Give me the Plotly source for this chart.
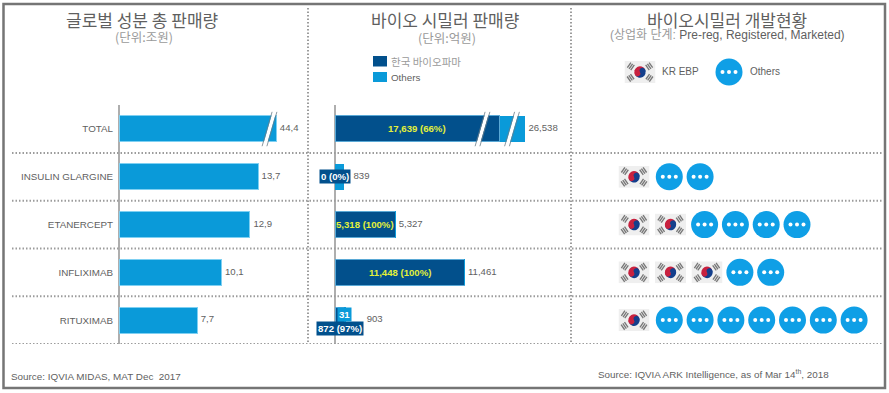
import base64
import plotly.graph_objects as go

# ---------- data ----------
categories = ["TOTAL", "INSULIN GLARGINE", "ETANERCEPT", "INFLIXIMAB", "RITUXIMAB"]
global_sales = [44.4, 13.7, 12.9, 10.1, 7.7]
global_labels = ["44,4", "13,7", "12,9", "10,1", "7,7"]
# TOTAL bars are drawn with a broken axis, so their drawn length is shorter than the value
global_drawn = [15.5, 13.7, 12.9, 10.1, 7.7]

bio_kr = [17639, 0, 5318, 11448, 872]
bio_total = [26538, 839, 5327, 11461, 903]
bio_kr_drawn = [14600, 0, 5318, 11448, 872]
bio_others_drawn = [2210, 839, 9, 13, 31]
bio_total_labels = ["26,538", "839", "5,327", "11,461", "903"]
bio_kr_labels = ["17,639 (66%)", "0 (0%)", "5,318 (100%)", "11,448 (100%)", "872 (97%)"]

pipeline_kr = [0, 1, 2, 3, 1]
pipeline_others = [0, 2, 4, 2, 7]

LIGHT = "#0a9ad9"
DARK = "#02508c"
CIRCLE = "#0f9fe6"
GREY = "#5f5f5f"
PALE = "#9a9a9a"
DOT = "#9c9c9c"
FONT = "Liberation Sans, Arial, sans-serif"
KR = "Noto Sans CJK KR, sans-serif"
W, H = 889, 393
PX_L, PX_M = 10.15, 0.0113


def fx(p):
    return p / W


def fy(p):
    return 1 - p / H


flag_svg = """<svg xmlns="http://www.w3.org/2000/svg" viewBox="0 0 60 42">
<rect width="60" height="42" fill="#efefef"/>
<g transform="rotate(-28 30 21)">
<path d="M19 21a11 11 0 0 1 22 0z" fill="#c8213f"/>
<path d="M19 21a11 11 0 0 0 22 0z" fill="#143f8c"/>
<circle cx="24.5" cy="21" r="5.5" fill="#c8213f"/>
<circle cx="35.5" cy="21" r="5.5" fill="#143f8c"/>
</g>
<g fill="#777777">
<g transform="rotate(-55 12 10)"><rect x="6" y="5" width="12" height="2.6"/><rect x="6" y="9" width="12" height="2.6"/><rect x="6" y="13" width="12" height="2.6"/></g>
<g transform="rotate(55 48 10)"><rect x="42" y="5" width="12" height="2.6"/><rect x="42" y="9" width="12" height="2.6"/><rect x="42" y="13" width="12" height="2.6"/></g>
<g transform="rotate(55 12 32)"><rect x="6" y="27" width="12" height="2.6"/><rect x="6" y="31" width="12" height="2.6"/><rect x="6" y="35" width="12" height="2.6"/></g>
<g transform="rotate(-55 48 32)"><rect x="42" y="27" width="12" height="2.6"/><rect x="42" y="31" width="12" height="2.6"/><rect x="42" y="35" width="12" height="2.6"/></g>
</g></svg>"""
FLAG = "data:image/svg+xml;base64," + base64.b64encode(flag_svg.encode()).decode()

fig = go.Figure()

# ---------- left panel ----------
fig.add_trace(go.Bar(x=global_drawn, y=categories, orientation="h", width=0.545,
                     marker=dict(color=LIGHT, line=dict(color="#7fd0f2", width=1)),
                     xaxis="x", yaxis="y", showlegend=False))
fig.add_trace(go.Scatter(x=[v + 3.5 / PX_L for v in global_drawn], y=categories, text=global_labels, mode="text",
                         textposition="middle right", textfont=dict(size=9.6, color=GREY, family=FONT),
                         xaxis="x", yaxis="y", showlegend=False, cliponaxis=False))

# ---------- middle panel ----------
fig.add_trace(go.Bar(x=bio_kr_drawn, y=categories, orientation="h", width=0.545,
                     marker=dict(color=DARK, line=dict(color="#5aa9d6", width=1)),
                     xaxis="x2", yaxis="y", name="한국 바이오파마", showlegend=False))
fig.add_trace(go.Bar(x=bio_others_drawn, y=categories, orientation="h", width=0.545,
                     marker=dict(color=LIGHT, line=dict(width=0)),
                     xaxis="x2", yaxis="y", name="Others", showlegend=False))
bio_drawn_total = [a + b for a, b in zip(bio_kr_drawn, bio_others_drawn)]
label_gap_px = [3.5, 9, 3.5, 3.5, 21.5]
fig.add_trace(go.Scatter(x=[v + g / PX_M for v, g in zip(bio_drawn_total, label_gap_px)], y=categories,
                         text=bio_total_labels, mode="text",
                         textposition="middle right", textfont=dict(size=9.6, color=GREY, family=FONT),
                         xaxis="x2", yaxis="y", showlegend=False, cliponaxis=False))

annotations = []


def label(text, x, cat, color, bg=None, xshift=0, yshift=0, size=9.6, xref="x2"):
    annotations.append(dict(text=text, x=x, y=cat, xref=xref, yref="y", showarrow=False,
                            xshift=xshift, yshift=yshift, bgcolor=bg, borderpad=1,
                            font=dict(size=size, color=color, family=FONT)))


YEL = "#e3f03a"
for i in (0, 2, 3):
    label("<b>%s</b>" % bio_kr_labels[i], bio_kr_drawn[i] / 2, categories[i], YEL)
label("<b>%s</b>" % bio_kr_labels[1], 0, categories[1], "white", bg=DARK)
label("<b>%s</b>" % bio_kr_labels[4], 0, categories[4], "white", bg=DARK, xshift=5, yshift=-8)
label("<b>31</b>", 0, categories[4], "white", bg=LIGHT, xshift=9, yshift=6)

# ---------- right panel ----------
FLAG_STEP, CIRCLE_STEP, X0, FIRST_GAP = 36.5, 30.8, 634, 35.3
circle_x, circle_y = [], []
images = []
for row, (nk, no) in enumerate(zip(pipeline_kr, pipeline_others)):
    for k in range(nk):
        images.append(dict(source=FLAG, xref="x3", yref="y2", x=X0 + k * FLAG_STEP, y=row,
                           sizex=31, sizey=22 / 47.75, xanchor="center", yanchor="middle",
                           sizing="stretch", layer="above"))
    for k in range(no):
        circle_x.append(X0 + nk * FIRST_GAP + k * CIRCLE_STEP)
        circle_y.append(row)

# legend keys of the right panel live above the first row
LEG_Y = (72 - 129) / 47.75
images.append(dict(source=FLAG, xref="x3", yref="y2", x=640, y=LEG_Y, sizex=31, sizey=22 / 47.75,
                   xanchor="center", yanchor="middle", sizing="stretch", layer="above"))
circle_x.append(729)
circle_y.append(LEG_Y)

fig.add_trace(go.Scatter(x=circle_x, y=circle_y, mode="markers",
                         marker=dict(size=27, color=CIRCLE, line=dict(width=0)),
                         xaxis="x3", yaxis="y2", showlegend=False, cliponaxis=False))
for off in (-6.5, 0, 6.5):
    fig.add_trace(go.Scatter(x=[c + off for c in circle_x], y=circle_y, mode="markers",
                             marker=dict(size=4, color="white", line=dict(width=0)),
                             xaxis="x3", yaxis="y2", showlegend=False, cliponaxis=False))

# ---------- decoration ----------
shapes = [dict(type="rect", xref="paper", yref="paper", x0=fx(3.5), x1=fx(885), y0=fy(388), y1=fy(4),
               line=dict(color="#757575", width=2.5), fillcolor="rgba(0,0,0,0)")]
for r in (0.5, 1.5, 2.5, 3.5, 4.5):
    shapes.append(dict(type="line", xref="paper", yref="y2", x0=fx(12), x1=fx(882), y0=r, y1=r,
                       line=dict(color=DOT, width=2, dash="1.5px 2px")))
for px in (308, 571):
    shapes.append(dict(type="line", xref="paper", yref="paper", x0=fx(px), x1=fx(px), y0=fy(8), y1=fy(344),
                       line=dict(color=DOT, width=2, dash="1.5px 2px")))
# bar-break slashes
for xb, xt in ((264.5, 274.5), (477.5, 487.5), (507, 517)):
    for d, col, w in ((0, "white", 3.5), (-2.4, "#6b7c88", 0.8), (2.4, "#6b7c88", 0.8)):
        shapes.append(dict(type="line", xref="x3", yref="y2", x0=xb + d, x1=xt + d,
                           y0=0.36, y1=-0.36, line=dict(color=col, width=w), layer="above"))
# legend swatches of the middle panel
for (y0, y1), col in (((56, 66.5), DARK), ((72, 82), LIGHT)):
    shapes.append(dict(type="rect", xref="paper", yref="paper", x0=fx(373), x1=fx(387), y0=fy(y1), y1=fy(y0),
                       fillcolor=col, line=dict(width=0)))


def note(text, px, py, size, color, family=KR, anchor="center"):
    annotations.append(dict(text=text, x=fx(px), y=fy(py), xref="paper", yref="paper", showarrow=False,
                            xanchor=anchor, yanchor="middle", font=dict(size=size, color=color, family=family)))


note("글로벌 성분 총 판매량", 142, 19, 17, GREY)
note("(단위:조원)", 144, 36, 12.5, PALE)
note("바이오 시밀러 판매량", 445, 19, 17, GREY)
note("(단위:억원)", 447, 37, 12.5, PALE)
note("바이오시밀러 개발현황", 727, 19, 17, GREY)
note("<span style='color:%s'>(상업화 단계:</span> Pre-reg, Registered, Marketed)" % PALE, 727, 35.5, 12, GREY,
     "Liberation Sans, Noto Sans CJK KR, sans-serif")
note("한국 바이오파마", 389, 61, 10.5, PALE, anchor="left")
note("Others", 389, 77, 9.8, GREY, FONT, "left")
note("KR EBP", 660, 72, 10, GREY, FONT, "left")
note("Others", 748, 72, 10, GREY, FONT, "left")
note("Source: IQVIA MIDAS, MAT Dec  2017", 9, 376, 9.9, GREY, FONT, "left")
note("Source: IQVIA ARK Intelligence, as of Mar 14<sup>th</sup>, 2018", 596, 374, 9.85, GREY, FONT, "left")

fig.update_layout(
    width=W, height=H, autosize=False, margin=dict(l=0, r=0, t=0, b=0),
    paper_bgcolor="white", plot_bgcolor="rgba(0,0,0,0)", barmode="stack", showlegend=False,
    xaxis=dict(domain=[fx(119), fx(300)], range=[0, 181 / PX_L], anchor="y", showgrid=False,
               showticklabels=False, ticks="", zeroline=True, zerolinecolor="#aeaeae", zerolinewidth=1.5),
    xaxis2=dict(domain=[fx(335), fx(560)], range=[0, 225 / PX_M], anchor="y", showgrid=False,
                showticklabels=False, ticks="", zeroline=True, zerolinecolor="#aeaeae", zerolinewidth=1.5),
    xaxis3=dict(domain=[fx(0), fx(889)], range=[0, 889], anchor="y2", visible=False),
    yaxis=dict(domain=[fy(344), fy(105)], type="category", categoryorder="array", categoryarray=categories,
               range=[4.5, -0.5], anchor="x", showgrid=False, showline=False, ticks="",
               ticklabelstandoff=5, tickfont=dict(size=9.8, color=GREY, family=FONT)),
    yaxis2=dict(domain=[fy(344), fy(8)], range=[4.5, (8 - 129) / 47.75], anchor="x3", visible=False),
    shapes=shapes, annotations=annotations, images=images,
)

fig.write_html("out.html", config={"displayModeBar": False},
               post_script="document.body.style.margin='0';document.documentElement.style.overflow='hidden';")
